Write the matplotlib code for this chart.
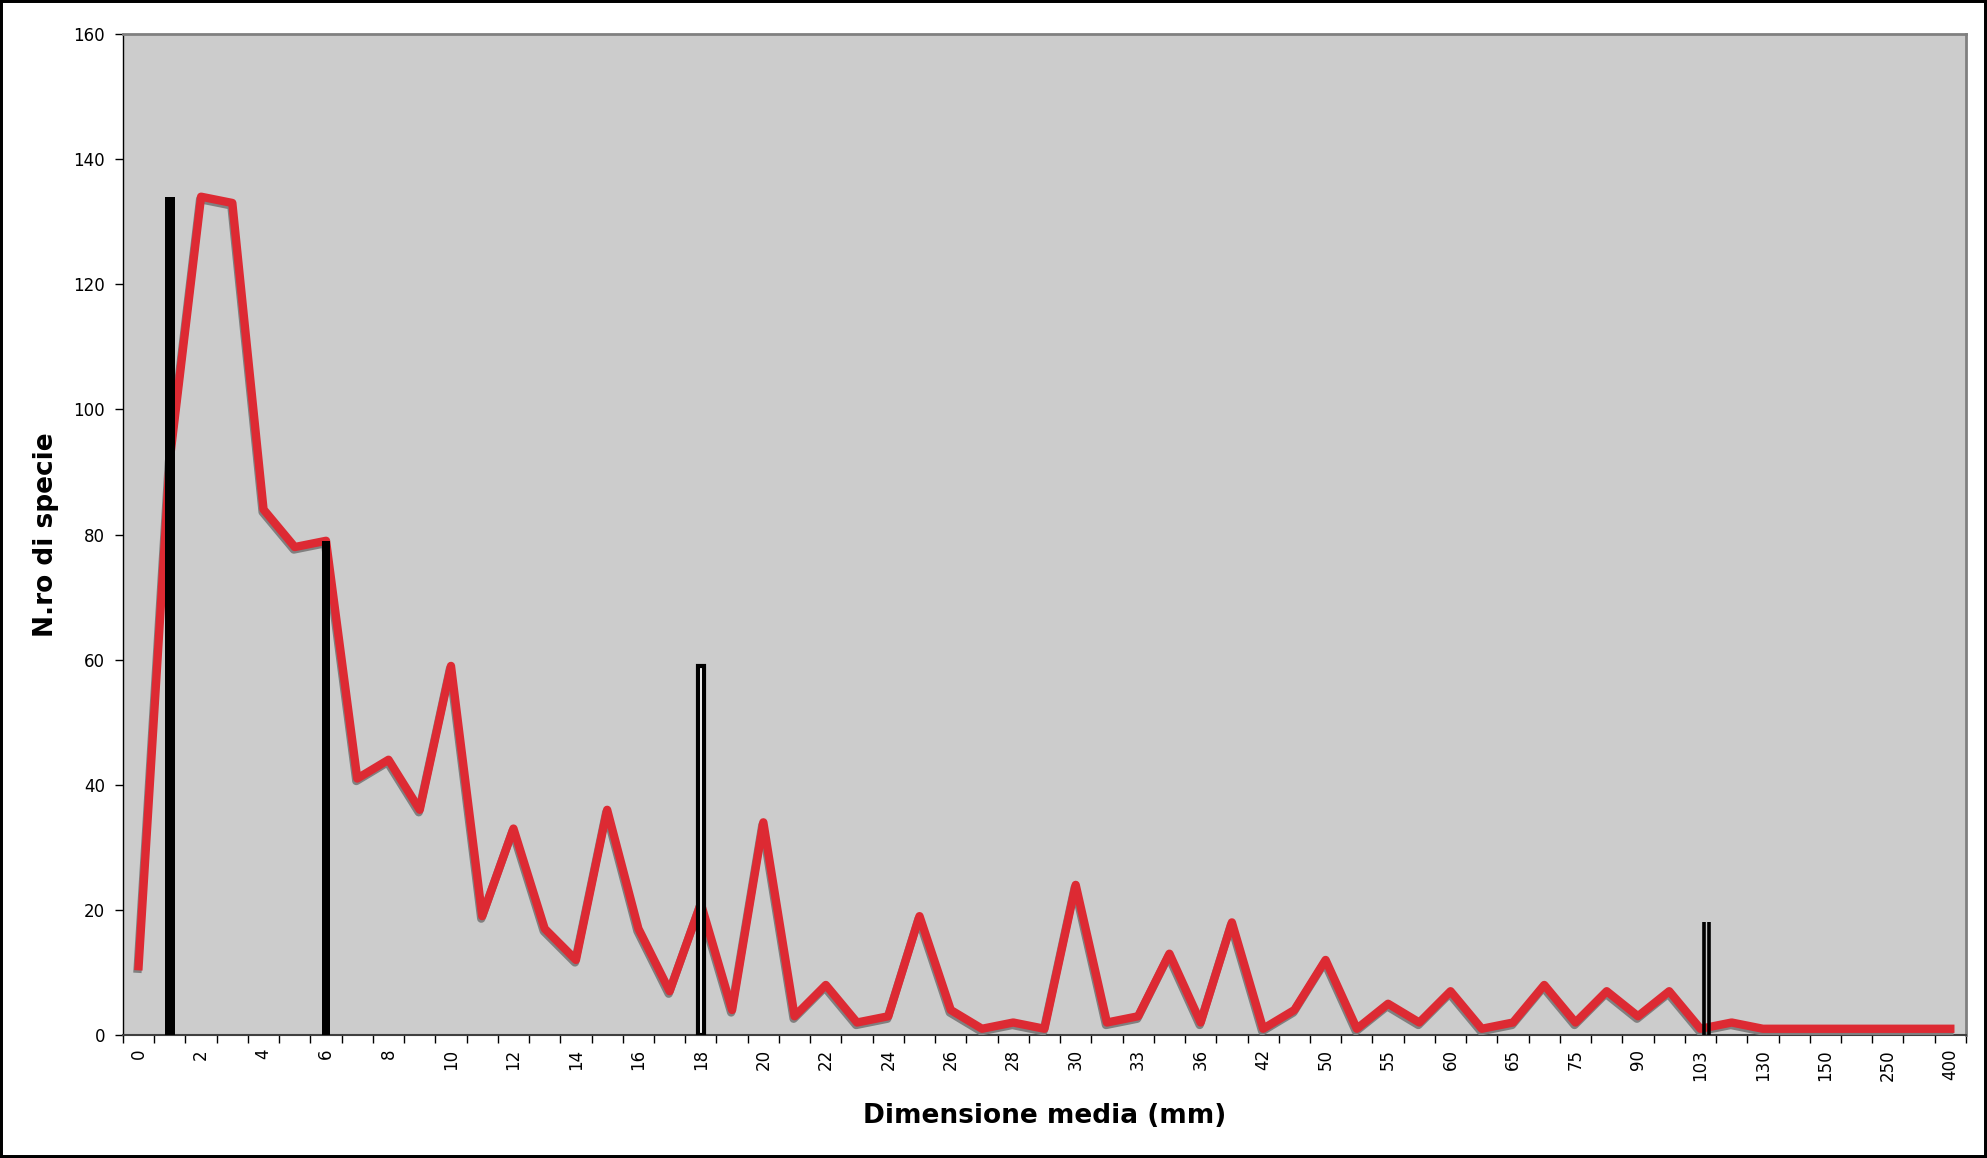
import numpy as np
import matplotlib.pyplot as plt
import matplotlib.patheffects as pe
from matplotlib.patches import Rectangle

# categories of mean size (mm); only every other one is labelled on the axis
sizes = ["0", "1", "2", "3", "4", "5", "6", "7", "8", "9",
         "10", "11", "12", "13", "14", "15", "16", "17", "18", "19",
         "20", "21", "22", "23", "24", "25", "26", "27", "28", "29",
         "30", "32", "33", "35", "36", "40", "42", "45", "50", "52",
         "55", "57", "60", "62", "65", "70", "75", "80", "90", "100",
         "103", "120", "130", "140", "150", "200", "250", "300", "400"]

# number of species per size class
n_species = [11, 92, 134, 133, 84, 78, 79, 41, 44, 36,
             59, 19, 33, 17, 12, 36, 17, 7, 21, 4,
             34, 3, 8, 2, 3, 19, 4, 1, 2, 1,
             24, 2, 3, 13, 2, 18, 1, 4, 12, 1,
             5, 2, 7, 1, 2, 8, 2, 7, 3, 7,
             1, 2, 1, 1, 1, 1, 1, 1, 1]

# vertical markers (size class, height)
marker_cat = ["1", "6", "18", "103"]
marker_h = [134, 79, 59, 18]

x = np.arange(len(sizes))

fig = plt.figure(figsize=(19.87, 11.58), dpi=100)
ax = fig.add_axes([0.0619, 0.1062, 0.9275, 0.8644])
ax.set_facecolor("#CCCCCC")

# red line with grey drop shadow
ax.plot(x, n_species, color="#DD2A33", lw=6, solid_joinstyle="round", zorder=3,
        path_effects=[pe.SimpleLineShadow(offset=(-0.7, -1.8), shadow_color="#808080", alpha=1),
                      pe.Normal()])

# markers drawn over the line
mx = [sizes.index(c) for c in marker_cat]
ax.bar(mx[0], marker_h[0], width=0.3, color="black", zorder=4)
ax.bar(mx[1], marker_h[1], width=0.27, color="black", zorder=4)
ax.bar(mx[2], marker_h[2], width=0.17, facecolor="white", edgecolor="black", lw=3, zorder=4)
ax.vlines([mx[3] + 0.11, mx[3] + 0.27], 0, marker_h[3], color="black", lw=2.6, zorder=4)

ax.set_xlim(-0.5, len(sizes) - 0.5)
ax.set_ylim(0, 160)
ax.set_yticks(np.arange(0, 161, 20))

# labels every other category, ticks on category boundaries
ax.set_xticks(x[::2])
ax.set_xticklabels(sizes[::2], rotation=90)
ax.set_xticks(np.arange(-0.5, len(sizes)), minor=True)
ax.tick_params(axis="x", which="major", length=0, pad=10, labelsize=12)
ax.tick_params(axis="x", which="minor", length=6, width=1, direction="out")
ax.tick_params(axis="y", length=6, width=1, pad=7, labelsize=12)

for s in ["top", "right"]:
    ax.spines[s].set_color("#808080")
    ax.spines[s].set_linewidth(2)
ax.spines["left"].set_color("black")
ax.spines["left"].set_linewidth(1)
ax.spines["bottom"].set_color("#404040")
ax.spines["bottom"].set_linewidth(1.5)

ax.set_xlabel("Dimensione media (mm)", fontsize=19, fontweight="bold", labelpad=16)
ax.set_ylabel("N.ro di specie", fontsize=19, fontweight="bold", labelpad=10)

# outer black frame
fig.patches.append(Rectangle((0, 0), 1, 1, transform=fig.transFigure, fill=False,
                             edgecolor="black", lw=4.3, clip_on=False))

fig.savefig("out.png", dpi=100)
